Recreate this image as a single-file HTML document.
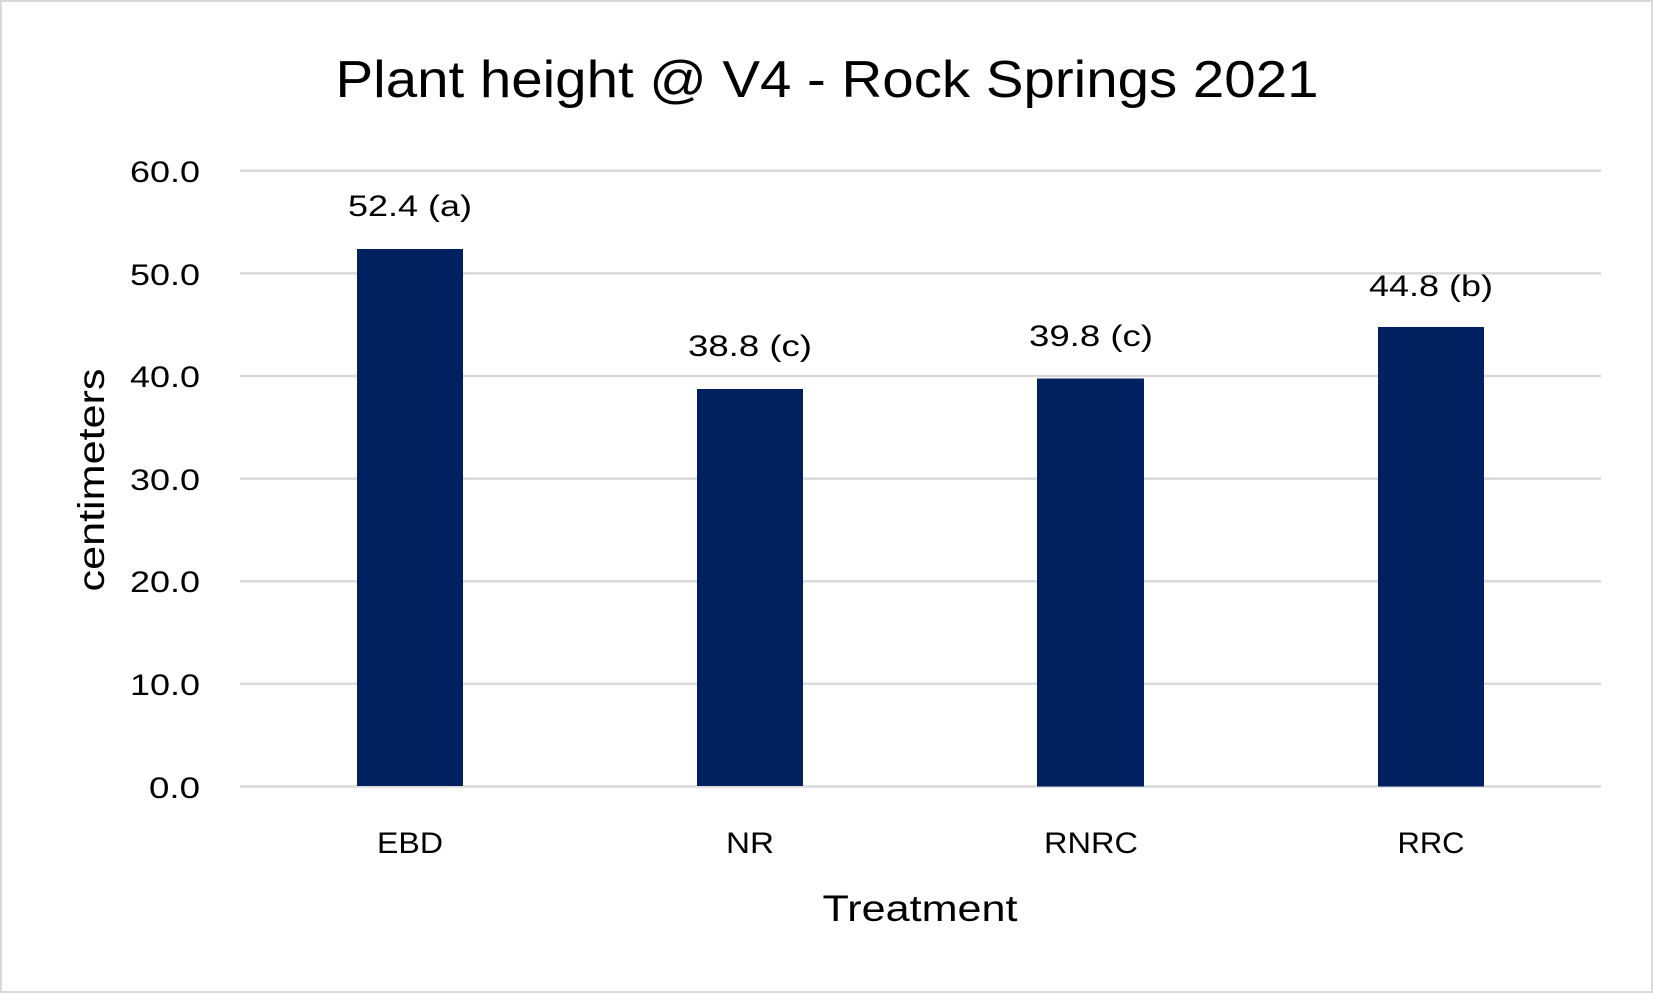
<!DOCTYPE html>
<html><head><meta charset="utf-8"><style>html,body{margin:0;padding:0;background:#fff}svg{display:block}</style></head>
<body>
<svg width="1653" height="993" viewBox="0 0 1653 993" xmlns="http://www.w3.org/2000/svg" font-family="'Liberation Sans', sans-serif" fill="#000">
<rect x="1" y="1" width="1651" height="991" fill="#fff" stroke="#d9d9d9" stroke-width="2"/>
<text x="827" y="97" font-size="52" text-anchor="middle" textLength="983" lengthAdjust="spacingAndGlyphs">Plant height @ V4 - Rock Springs 2021</text>
<g stroke="#d9d9d9" stroke-width="2.5">
<line x1="240" x2="1601" y1="170.8" y2="170.8"/>
<line x1="240" x2="1601" y1="273.4" y2="273.4"/>
<line x1="240" x2="1601" y1="376" y2="376"/>
<line x1="240" x2="1601" y1="478.6" y2="478.6"/>
<line x1="240" x2="1601" y1="581.2" y2="581.2"/>
<line x1="240" x2="1601" y1="683.8" y2="683.8"/>
<line x1="240" x2="1601" y1="786.5" y2="786.5"/>
</g>
<g font-size="30" text-anchor="end">
<text x="200" y="182" textLength="70" lengthAdjust="spacingAndGlyphs">60.0</text>
<text x="200" y="285" textLength="70" lengthAdjust="spacingAndGlyphs">50.0</text>
<text x="200" y="387" textLength="70" lengthAdjust="spacingAndGlyphs">40.0</text>
<text x="200" y="490" textLength="70" lengthAdjust="spacingAndGlyphs">30.0</text>
<text x="200" y="592" textLength="70" lengthAdjust="spacingAndGlyphs">20.0</text>
<text x="200" y="695" textLength="70" lengthAdjust="spacingAndGlyphs">10.0</text>
<text x="200" y="798" textLength="51" lengthAdjust="spacingAndGlyphs">0.0</text>
</g>
<g fill="#002060">
<rect x="357" y="249" width="106" height="537"/>
<rect x="697" y="389" width="106" height="397"/>
<rect x="1037" y="378.5" width="107" height="408"/>
<rect x="1378" y="327" width="106" height="459.5"/>
</g>
<g font-size="30" text-anchor="middle">
<text x="410" y="216" textLength="124" lengthAdjust="spacingAndGlyphs">52.4 (a)</text>
<text x="750" y="356" textLength="124" lengthAdjust="spacingAndGlyphs">38.8 (c)</text>
<text x="1091" y="346" textLength="124" lengthAdjust="spacingAndGlyphs">39.8 (c)</text>
<text x="1431" y="296" textLength="124" lengthAdjust="spacingAndGlyphs">44.8 (b)</text>
<text x="410" y="853" textLength="66" lengthAdjust="spacingAndGlyphs">EBD</text>
<text x="750" y="853" textLength="48" lengthAdjust="spacingAndGlyphs">NR</text>
<text x="1091" y="853" textLength="94" lengthAdjust="spacingAndGlyphs">RNRC</text>
<text x="1431" y="853" textLength="67" lengthAdjust="spacingAndGlyphs">RRC</text>
</g>
<text x="920" y="921" font-size="37" text-anchor="middle" textLength="195" lengthAdjust="spacingAndGlyphs">Treatment</text>
<text transform="translate(104,480) rotate(-90)" font-size="37" text-anchor="middle" textLength="223" lengthAdjust="spacingAndGlyphs">centimeters</text>
</svg>
</body></html>
